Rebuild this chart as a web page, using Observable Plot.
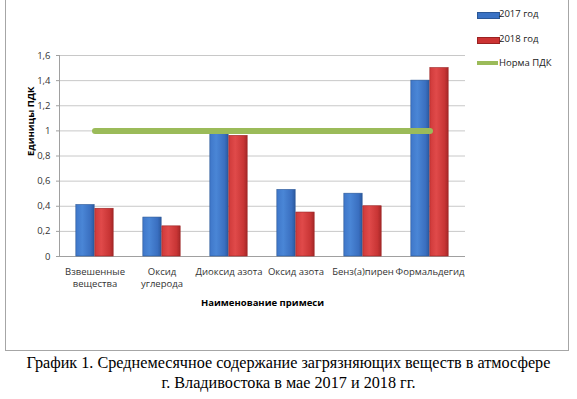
<!DOCTYPE html>
<html>
<head>
<meta charset="utf-8">
<script src="https://cdn.jsdelivr.net/npm/d3@7"></script>
<script src="https://cdn.jsdelivr.net/npm/@observablehq/plot@0.6"></script>
<style>
  html, body { margin: 0; padding: 0; background: #fff; }
  #wrap { position: relative; width: 577px; height: 399px; overflow: hidden; }
  #box { position: absolute; left: 5px; top: -2px; width: 564px; height: 353px; border: 1px solid #a6a6a6; box-sizing: border-box; }
  #chart { position: absolute; left: 0; top: 0; }
  #legend { position: absolute; left: 477px; top: 6px; font-family: "Open Sans", sans-serif; font-size: 9.5px; color: #222; }
  .li { position: absolute; white-space: nowrap; height: 16px; line-height: 16px; }
  .sw { position: absolute; left: 0; width: 21px; }
  .lt { position: absolute; left: 22px; top: 0; }
  #caption { position: absolute; left: 0; top: 353px; width: 577px; text-align: center; font-family: "Liberation Serif", "Times New Roman", serif; font-size: 16.2px; line-height: 20px; color: #000; }
</style>
</head>
<body>
<div id="wrap">
  <div id="box"></div>
  <div id="chart"></div>
  <div id="legend"></div>
  <div id="caption">График 1. Среднемесячное содержание загрязняющих веществ в атмосфере<br>г. Владивостока в мае 2017 и 2018 гг.</div>
</div>
<script>
const categories = ["Взвешенные\nвещества", "Оксид\nуглерода", "Диоксид азота", "Оксид азота", "Бенз(а)пирен", "Формальдегид"];
const values2017 = [0.41, 0.31, 0.98, 0.53, 0.50, 1.40];
const values2018 = [0.38, 0.24, 0.96, 0.35, 0.40, 1.50];
const normValue = 1;
const seriesNames = ["2017 год", "2018 год", "Норма ПДК"];
const yTicks = [0, 0.2, 0.4, 0.6, 0.8, 1, 1.2, 1.4, 1.6];
const yTickLabels = ["0", "0,2", "0,4", "0,6", "0,8", "1", "1,2", "1,4", "1,6"];
const yLabel = "Единицы ПДК";
const xLabel = "Наименование примеси";

const W = 577, H = 352, mL = 59, mR = 112, mT = 55, mB = 96;
const bw = (W - mL - mR) / categories.length;
const half = bw / 2;
const barW = 19;
const outer = half - barW;

const rows2017 = categories.map((c, i) => ({cat: c, v: values2017[i]}));
const rows2018 = categories.map((c, i) => ({cat: c, v: values2018[i]}));

const chart = Plot.plot({
  width: W, height: H,
  marginLeft: mL, marginRight: mR, marginTop: mT, marginBottom: mB,
  x: {domain: categories, padding: 0},
  y: {domain: [0, 1.6]},
  style: {fontFamily: "Open Sans, sans-serif", fontSize: "9.5px", color: "#333", background: "transparent"},
  marks: [
    Plot.gridY(yTicks.slice(1), {stroke: "#c8c8c8", strokeOpacity: 1, strokeWidth: 1}),
    Plot.ruleY([0], {stroke: "#a0a0a0"}),
    Plot.frame({anchor: "left", stroke: "#a0a0a0"}),
    Plot.axisY(yTicks, {tickFormat: d => yTickLabels[yTicks.indexOf(d)], tickSize: 3, tickPadding: 6, stroke: "#a0a0a0", label: null}),
    Plot.axisX({tickSize: 0, tickPadding: 9, lineHeight: 1.35, label: null}),
    Plot.barY(rows2017, {x: "cat", y: "v", fill: "url(#g2017)", stroke: "#2b5796", strokeWidth: 0.6, insetLeft: outer, insetRight: half}),
    Plot.barY(rows2018, {x: "cat", y: "v", fill: "url(#g2018)", stroke: "#9a2222", strokeWidth: 0.6, insetLeft: half, insetRight: outer}),
    Plot.lineY(categories, {x: d => d, y: () => normValue, stroke: "#9bbb59", strokeWidth: 6, strokeLinecap: "round"}),
    Plot.text([yLabel], {text: d => d, frameAnchor: "left", rotate: -90, dx: -29, fontWeight: "bold", fill: "#000"}),
    Plot.text([xLabel], {text: d => d, frameAnchor: "bottom", dy: 49, fontWeight: "bold", fill: "#000"})
  ]
});

chart.insertAdjacentHTML("afterbegin", `<defs>
  <linearGradient id="g2017" x1="0" x2="1" y1="0" y2="0">
    <stop offset="0" stop-color="#3f77c9"/>
    <stop offset="0.35" stop-color="#4a86d6"/>
    <stop offset="0.8" stop-color="#3a6fc0"/>
    <stop offset="1" stop-color="#2c5aa0"/>
  </linearGradient>
  <linearGradient id="g2018" x1="0" x2="1" y1="0" y2="0">
    <stop offset="0" stop-color="#cf3a3a"/>
    <stop offset="0.35" stop-color="#e04a4a"/>
    <stop offset="0.8" stop-color="#c83535"/>
    <stop offset="1" stop-color="#a52828"/>
  </linearGradient>
</defs>`);
document.getElementById("chart").appendChild(chart);

const legend = document.getElementById("legend");
const legendColors = ["#3a72c4", "#cc3333", "#9bbb59"];
seriesNames.forEach((name, i) => {
  const li = document.createElement("div");
  li.className = "li";
  li.style.top = (i * 24.5) + "px";
  const sw = document.createElement("div");
  sw.className = "sw";
  sw.style.background = legendColors[i];
  sw.style.height = (i < 2 ? 5 : 4) + "px";
  sw.style.top = "6px";
  if (i < 2) sw.style.border = "0.5px solid " + (i === 0 ? "#2b5796" : "#9a2222");
  const t = document.createElement("span");
  t.className = "lt";
  t.textContent = name;
  li.appendChild(sw); li.appendChild(t);
  legend.appendChild(li);
});
</script>
</body>
</html>
